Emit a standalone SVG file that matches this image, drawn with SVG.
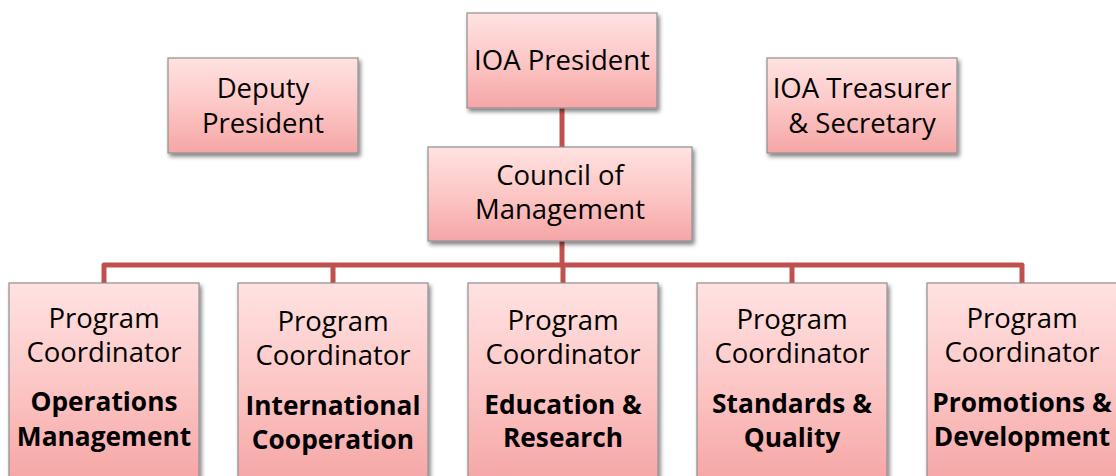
<svg xmlns="http://www.w3.org/2000/svg" width="1116" height="476" viewBox="0 0 1116 476">
<defs>
<linearGradient id="g" x1="0" y1="0" x2="0" y2="1">
<stop offset="0" stop-color="#ffe2e2"/>
<stop offset="0.5" stop-color="#fcc7c6"/>
<stop offset="1" stop-color="#f5a6a5"/>
</linearGradient>
<filter id="sh" x="-10%" y="-10%" width="125%" height="125%">
<feGaussianBlur in="SourceAlpha" stdDeviation="2"/>
<feOffset dx="2" dy="3" result="b"/>
<feComponentTransfer><feFuncA type="linear" slope="0.5"/></feComponentTransfer>
<feMerge><feMergeNode/><feMergeNode in="SourceGraphic"/></feMerge>
</filter>
</defs>
<style>
.box{fill:url(#g);stroke:#8f8f8f;stroke-width:1.2;filter:url(#sh)}
text{font-family:"Open Sans","Liberation Sans",sans-serif;font-size:27.5px;fill:#000;text-anchor:middle}
.b{font-weight:bold;font-size:26.3px}
.c{fill:none;stroke:#c0504d;stroke-width:5;stroke-linejoin:round}
</style>
<g id="connectors">
<path class="c" d="M562 108V147"/>
<path class="c" d="M562 241V265"/>
<path class="c" d="M104 283V265H1022V283"/>
<path class="c" d="M333 265V283M563 265V283M792 265V283"/>
</g>
<g id="president"><rect class="box" x="467" y="13" width="190" height="95"/><text x="562" y="70">IOA President</text></g>
<g id="deputy"><rect class="box" x="168" y="58" width="190" height="95"/><text x="263" y="98">Deputy</text><text x="263" y="133">President</text></g>
<g id="treasurer"><rect class="box" x="767" y="58" width="190" height="95"/><text x="862" y="98">IOA Treasurer</text><text x="862" y="133">&amp; Secretary</text></g>
<g id="council"><rect class="box" x="428" y="147" width="264" height="94"/><text x="560" y="185">Council of</text><text x="560" y="219">Management</text></g>
<g id="ops"><rect class="box" x="9" y="283" width="190" height="200"/><text x="104" y="328">Program</text><text x="104" y="362">Coordinator</text><text class="b" x="104" y="411">Operations</text><text class="b" x="104" y="446">Management</text></g>
<g id="intl"><rect class="box" x="238" y="283" width="190" height="200"/><text x="333" y="331">Program</text><text x="333" y="365">Coordinator</text><text class="b" x="333" y="415">International</text><text class="b" x="333" y="449">Cooperation</text></g>
<g id="edu"><rect class="box" x="468" y="283" width="190" height="200"/><text x="563" y="330">Program</text><text x="563" y="364">Coordinator</text><text class="b" x="563" y="414">Education &amp;</text><text class="b" x="563" y="447">Research</text></g>
<g id="std"><rect class="box" x="697" y="283" width="190" height="200"/><text x="792" y="329">Program</text><text x="792" y="363">Coordinator</text><text class="b" x="792" y="413">Standards &amp;</text><text class="b" x="792" y="447">Quality</text></g>
<g id="promo"><rect class="box" x="927" y="283" width="190" height="200"/><text x="1022" y="328">Program</text><text x="1022" y="362">Coordinator</text><text class="b" x="1022" y="412">Promotions &amp;</text><text class="b" x="1022" y="446">Development</text></g>
</svg>
